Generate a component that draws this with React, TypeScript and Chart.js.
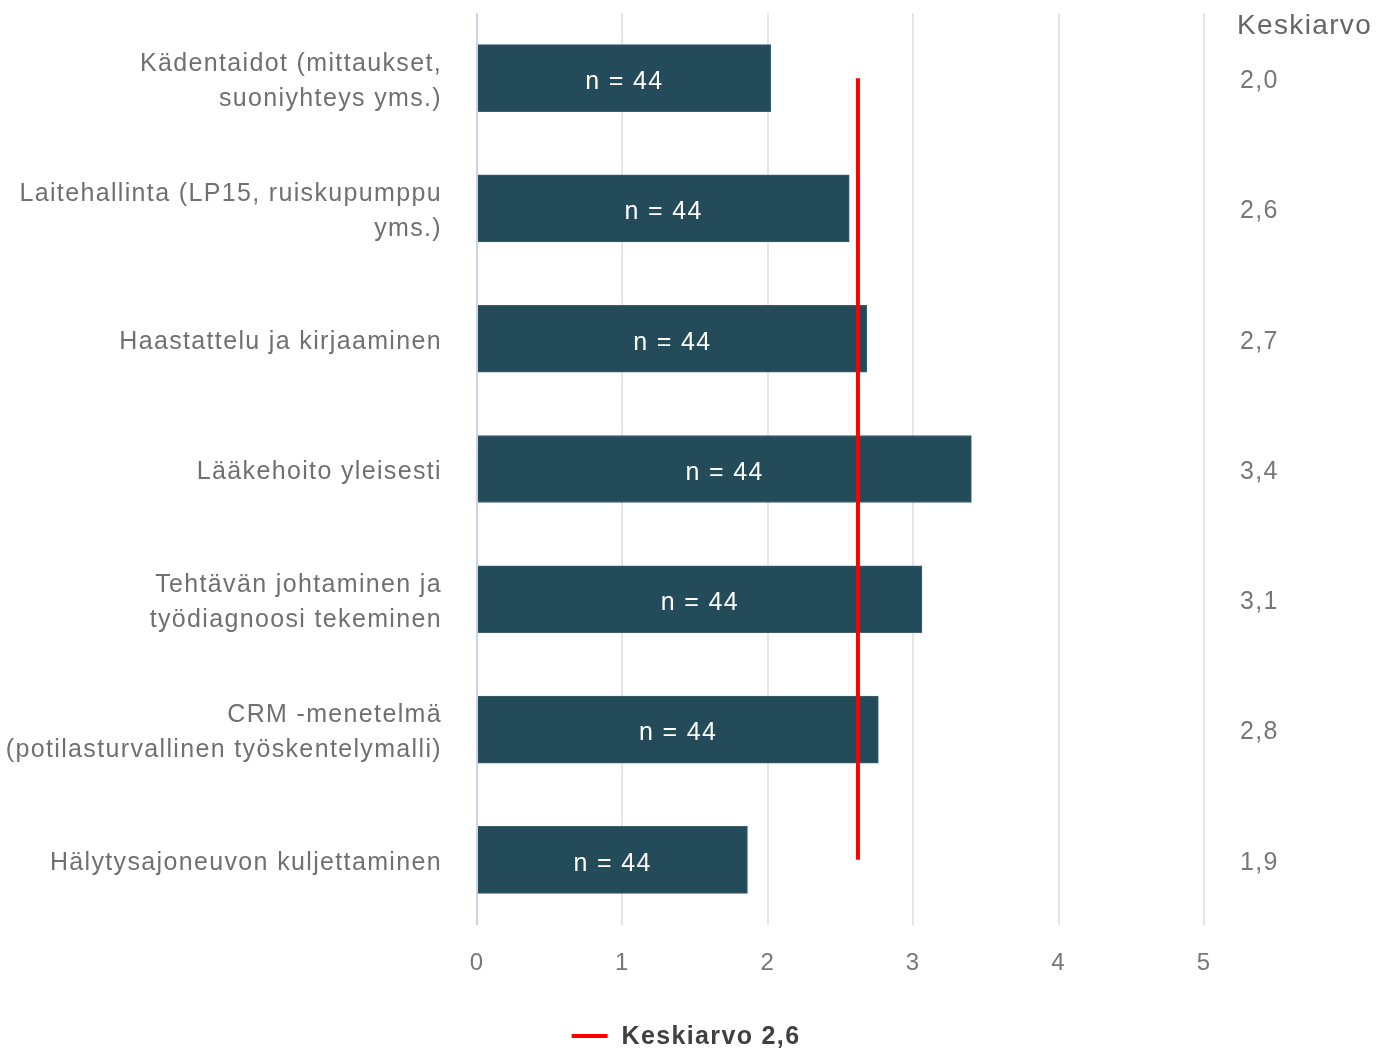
import { useEffect, useRef } from 'react';
import { Chart, registerables } from 'chart.js';

Chart.register(...registerables);

// Survey topics (y axis), one bar per topic
const topics: (string | string[])[] = [
  ['Kädentaidot (mittaukset,', 'suoniyhteys yms.)'],
  ['Laitehallinta (LP15, ruiskupumppu', 'yms.)'],
  'Haastattelu ja kirjaaminen',
  'Lääkehoito yleisesti',
  ['Tehtävän johtaminen ja', 'työdiagnoosi tekeminen'],
  ['CRM -menetelmä', '(potilasturvallinen työskentelymalli)'],
  'Hälytysajoneuvon kuljettaminen',
];

// Mean score per topic
const meanScores = [2.02, 2.56, 2.68, 3.4, 3.06, 2.76, 1.86];

// Number of respondents per topic
const respondents = [44, 44, 44, 44, 44, 44, 44];

// Scale of the answers
const scaleMin = 0;
const scaleMax = 5;

const meanHeader = 'Keskiarvo';

const FONT = "'Liberation Sans', Arial, Helvetica, sans-serif";
const BAR_COLOR = '#244b5a';
const MEAN_COLOR = '#ff0000';
const LETTER_SPACING = '1.35px';

const fmt = (v: number) => v.toFixed(1).replace('.', ',');

export default function App() {
  const canvasRef = useRef<HTMLCanvasElement>(null);

  useEffect(() => {
    if (!canvasRef.current) return;
    const overall = meanScores.reduce((a, b) => a + b, 0) / meanScores.length;
    const legendText = `${meanHeader} ${fmt(overall)}`;

    // Slightly tracked-out text everywhere (the context state resets on resize)
    const spacing = {
      id: 'spacing',
      beforeLayout(chart: any) {
        chart.ctx.letterSpacing = LETTER_SPACING;
      },
      beforeDraw(chart: any) {
        chart.ctx.letterSpacing = LETTER_SPACING;
      },
    };

    // "n = 44" written inside each bar
    const barLabels = {
      id: 'barLabels',
      afterDatasetsDraw(chart: any) {
        const ctx = chart.ctx;
        const meta = chart.getDatasetMeta(1);
        ctx.save();
        ctx.font = `25px ${FONT}`;
        ctx.fillStyle = '#ffffff';
        ctx.textAlign = 'center';
        ctx.textBaseline = 'middle';
        meta.data.forEach((bar: any, i: number) => {
          const { x, y, base } = bar.getProps(['x', 'y', 'base'], true);
          ctx.fillText(`n = ${respondents[i]}`, (x + base) / 2, y + 4);
        });
        ctx.restore();
      },
    };

    // Column header above the mean values and the legend at the bottom
    const extras = {
      id: 'extras',
      afterDraw(chart: any) {
        const ctx = chart.ctx;
        const area = chart.chartArea;
        ctx.save();
        ctx.font = `28px ${FONT}`;
        ctx.fillStyle = '#666666';
        ctx.textAlign = 'left';
        ctx.textBaseline = 'middle';
        ctx.fillText(meanHeader, area.right + 33, 26);

        ctx.font = `bold 25px ${FONT}`;
        const tw = ctx.measureText(legendText).width;
        const lineW = 36;
        const gap = 14;
        const total = lineW + gap + tw;
        const startX = chart.width / 2 - total / 2 - 9;
        const ly = 1036;
        ctx.strokeStyle = MEAN_COLOR;
        ctx.lineWidth = 4;
        ctx.beginPath();
        ctx.moveTo(startX, ly);
        ctx.lineTo(startX + lineW, ly);
        ctx.stroke();
        ctx.fillStyle = '#404040';
        ctx.fillText(legendText, startX + lineW + gap, ly + 1);
        ctx.restore();
      },
    };

    const chart = new Chart(canvasRef.current, {
      data: {
        labels: topics,
        datasets: [
          {
            type: 'line',
            label: legendText,
            data: topics.map(() => overall),
            borderColor: MEAN_COLOR,
            backgroundColor: MEAN_COLOR,
            borderWidth: 4,
            pointRadius: 0,
            order: 0,
            yAxisID: 'y',
          } as any,
          {
            type: 'bar',
            label: 'n',
            data: meanScores,
            backgroundColor: BAR_COLOR,
            borderColor: '#3c5f6c',
            borderWidth: 1,
            barThickness: 67,
            order: 1,
            yAxisID: 'y',
          } as any,
        ],
      },
      options: {
        indexAxis: 'y',
        animation: false,
        responsive: true,
        maintainAspectRatio: false,
        layout: { padding: { top: 13, left: 0, right: 0, bottom: 0 } },
        plugins: {
          legend: { display: false },
          tooltip: { enabled: false },
        },
        scales: {
          x: {
            type: 'linear',
            min: scaleMin,
            max: scaleMax,
            ticks: {
              stepSize: 1,
              padding: 24,
              color: '#777777',
              font: { family: FONT, size: 24 },
            },
            grid: {
              drawTicks: false,
              lineWidth: 2,
              color: (c: any) => (c.tick && c.tick.value === 0 ? '#cbd3e8' : '#e6e6e6'),
            },
            border: { display: false },
            afterFit: (s: any) => {
              s.height = 126;
              s.paddingLeft = 0;
              s.paddingRight = 0;
            },
          },
          y: {
            type: 'category',
            position: 'left',
            offset: true,
            ticks: {
              padding: 35,
              labelOffset: 3,
              color: '#707070',
              font: { family: FONT, size: 25, lineHeight: 1.4 },
            },
            grid: { display: false, drawTicks: false },
            border: { display: false },
            afterFit: (s: any) => {
              s.width = 477;
              s.paddingTop = 0;
              s.paddingBottom = 0;
            },
          },
          yRight: {
            type: 'category',
            position: 'right',
            offset: true,
            labels: meanScores.map(fmt),
            ticks: {
              padding: 36,
              labelOffset: 3,
              color: '#777777',
              font: { family: FONT, size: 25 },
            },
            grid: { display: false, drawTicks: false },
            border: { display: false },
            afterFit: (s: any) => {
              s.width = 186;
              s.paddingTop = 0;
              s.paddingBottom = 0;
            },
          },
        },
      } as any,
      plugins: [spacing, barLabels, extras],
    });

    return () => chart.destroy();
  }, []);

  return (
    <div style={{ position: 'fixed', left: 0, top: 0, width: 1390, height: 1051, background: '#ffffff' }}>
      <canvas ref={canvasRef} />
    </div>
  );
}
